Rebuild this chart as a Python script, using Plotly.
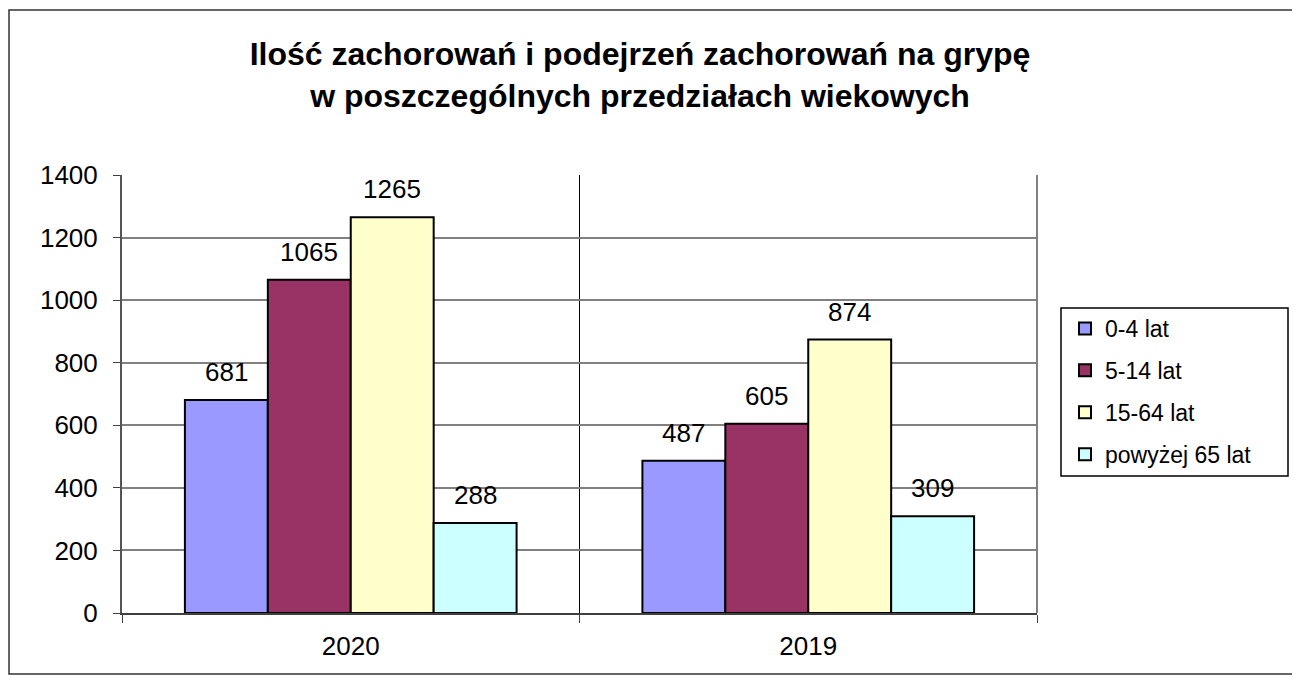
import plotly.graph_objects as go

categories = ["2020", "2019"]
series_names = ["0-4 lat", "5-14 lat", "15-64 lat", "powyżej 65 lat"]
values_0_4 = [681, 487]
values_5_14 = [1065, 605]
values_15_64 = [1265, 874]
values_65 = [288, 309]
colors = ["#9999FF", "#993366", "#FFFFCC", "#CCFFFF"]
y_ticks = [0, 200, 400, 600, 800, 1000, 1200, 1400]

series_values = [values_0_4, values_5_14, values_15_64, values_65]

FONT = "Liberation Sans, Arial, sans-serif"

# page has an 8px body margin, so figure coords = screen coords - 8
W, H = 1292, 668
L, R, T, B = 114, 1029, 167, 605
pw, ph = R - L, B - T
BARGAP = 0.275

def px(x):
    return (x - L) / pw

def py(y):
    return (B - y) / ph

fig = go.Figure()
for i, (name, vals) in enumerate(zip(series_names, series_values)):
    fig.add_trace(go.Bar(
        x=categories, y=vals, name=name,
        marker=dict(color=colors[i], line=dict(color="black", width=2)),
        legendgroup=name, cliponaxis=False,
    ))

# data labels above bars (positioned through the axes: category index, value)
cat_w = pw / len(categories)
bar_w = cat_w * (1 - BARGAP) / len(series_names)
for i, vals in enumerate(series_values):
    shift = (i - (len(series_names) - 1) / 2) * bar_w
    for j, v in enumerate(vals):
        fig.add_annotation(x=j, y=v, xref="x", yref="y", text=str(v),
                           showarrow=False, xshift=shift, yshift=11,
                           yanchor="bottom",
                           font=dict(size=26, family=FONT, color="black"))

fig.update_layout(
    width=W, height=H,
    margin=dict(l=L, r=W - R, t=T, b=H - B, autoexpand=False),
    paper_bgcolor="white", plot_bgcolor="white",
    barmode="group", bargap=BARGAP, bargroupgap=0,
    font=dict(family=FONT, size=26, color="black"),
    title=dict(
        text="Ilość zachorowań i podejrzeń zachorowań na grypę<br>w poszczególnych przedziałach wiekowych",
        x=632 / W, xanchor="center", y=1 - 57 / H, yanchor="middle",
        font=dict(size=32, family=FONT, color="black", weight="bold"),
    ),
    showlegend=True,
    legend=dict(
        x=px(1057), xanchor="left", y=py(299), yanchor="top",
        borderwidth=0, bgcolor="rgba(0,0,0,0)",
        font=dict(size=23, family=FONT, color="black"),
        tracegroupgap=9, traceorder="grouped",
        itemwidth=30,
    ),
    xaxis=dict(
        type="category", categoryorder="array", categoryarray=categories,
        range=[-0.5, len(categories) - 0.5], autorange=False,
        tickson="boundaries", ticks="outside", ticklen=8,
        tickcolor="#404040", showgrid=True, gridcolor="black", gridwidth=1,
        showline=True, linecolor="#404040", linewidth=2,
        tickfont=dict(size=26, family=FONT), ticklabelstandoff=9,
    ),
    yaxis=dict(
        range=[0, 1400], tickvals=y_ticks, ticks="outside", ticklen=7,
        tickcolor="#404040", showgrid=True, gridcolor="#808080", gridwidth=1.5,
        showline=True, linecolor="#555555", linewidth=2, zeroline=False,
        tickfont=dict(size=26, family=FONT), ticklabelstandoff=10,
    ),
)

# right edge of plot area
fig.add_shape(type="line", xref="paper", yref="paper", x0=1, x1=1, y0=0, y1=1,
              line=dict(color="#808080", width=2))
# legend frame
fig.add_shape(type="rect", xref="paper", yref="paper",
              x0=px(1053), x1=px(1280), y0=py(300), y1=py(468),
              line=dict(color="black", width=1.5), layer="below")
# outer chart border
fig.add_shape(type="rect", xref="paper", yref="paper",
              x0=px(1), x1=px(1286), y0=py(2), y1=py(666),
              line=dict(color="#333333", width=1.5), layer="below")

fig.write_html("out.html")
